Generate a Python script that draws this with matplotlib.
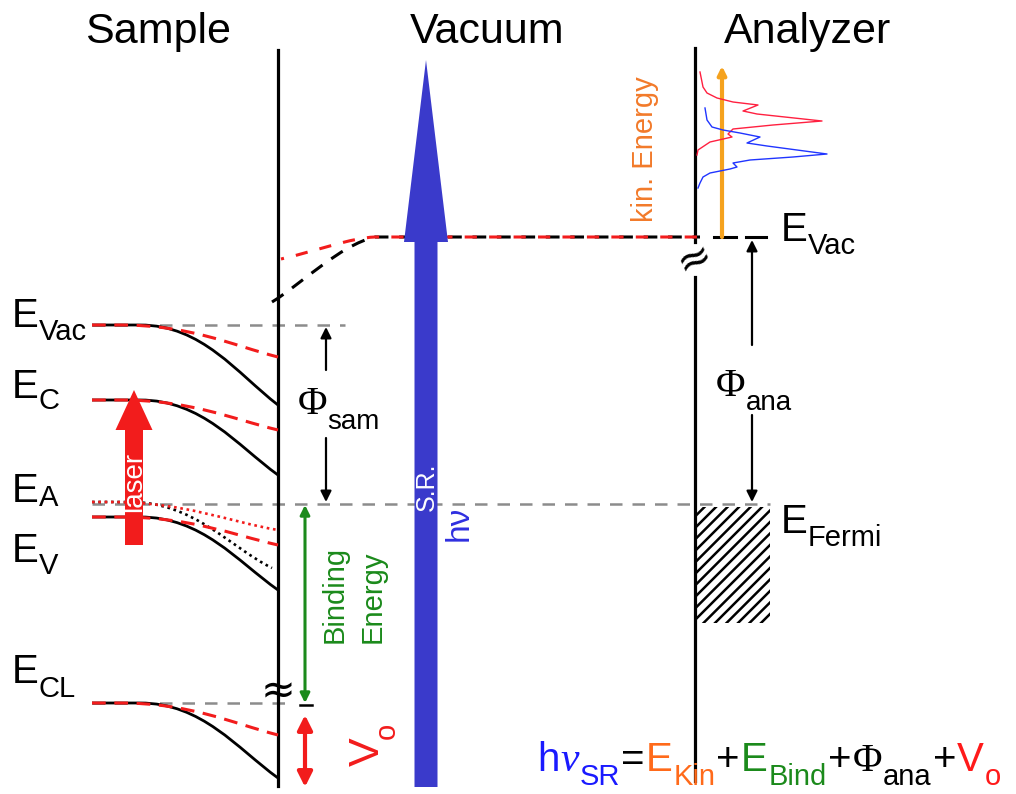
import matplotlib
matplotlib.use('Agg')
import matplotlib.pyplot as plt
import numpy as np
from matplotlib.patches import FancyArrow, Rectangle, PathPatch
from matplotlib.path import Path

plt.rcParams['font.family'] = ['Liberation Sans', 'DejaVu Sans']

# ---------------- data (energy axis in figure pixels, larger = lower energy) -------------
titles = ['Sample', 'Vacuum', 'Analyzer']
title_x = [158, 487, 808]

level_names = ['Vac', 'C', 'A', 'V', 'CL']
level_bulk = [325, 400, 502, 517, 703]      # bulk (flat band) positions
drop_dark = [80, 75, 66, 73, 75]            # band bending in the dark (black)
drop_laser = [32, 30, 28, 28, 32]           # band bending under laser (red)
label_base = [327, 398, 502, 562, 683]
label_sub_base = [340, 409, 506, 574, 697]

vac_level = 237
fermi_level = 504
surface_x = 278
analyzer_x = 695

# photoemission spectra (intensity to the right of analyzer line, vs. kinetic energy)
red_spec_int = [5, 8, 12, 22, 38, 63, 48, 62, 127, 78, 38, 33, 37, 15, 3, 2]
red_spec_e = [72, 87, 93, 98, 102, 105, 111, 114, 121, 125, 129, 134, 137, 142, 150, 155]
blue_spec_int = [10, 12, 17, 28, 45, 65, 52, 72, 132, 98, 55, 38, 42, 35, 15, 8, 5, 3]
blue_spec_e = [108, 120, 127, 130, 133, 137, 143, 146, 154, 157, 160, 163, 167, 169, 173, 177, 183, 188]

RED = '#f21c1c'
GREEN = '#1b8a1b'
BLUE = '#3a3acb'
ORANGE = '#f5a21e'
GRAY = '#8c8c8c'

fig = plt.figure(figsize=(10.16, 7.94), dpi=100)
ax = fig.add_axes([0, 0, 1, 1])
ax.set_xlim(0, 1016)
ax.set_ylim(794, 0)
ax.axis('off')
renderer = fig.canvas.get_renderer()


def sub_label(x, yb, main, sub, ys, size=29, subsize=21, color='black', family=None,
              main_size=None):
    kw = {}
    if family:
        kw['family'] = family
    t = ax.text(x, yb, main, fontsize=main_size or size, color=color, va='baseline',
                ha='left', **kw)
    w = t.get_window_extent(renderer).width
    ax.text(x + w, ys, sub, fontsize=subsize, color=color, va='baseline', ha='left')


def arrow(x0, y0, x1, y1, color='black', lw=2.0, style='-|>', ms=18, z=4):
    ax.annotate('', xy=(x1, y1), xytext=(x0, y0),
                arrowprops=dict(arrowstyle=style, color=color, lw=lw, shrinkA=0, shrinkB=0,
                                mutation_scale=ms), zorder=z)


def band(y0, drop, bend_start, frac, end_x, **kw):
    L = end_x - bend_start
    verts = [(92, y0), (bend_start, y0), (bend_start + 0.45 * L, y0),
             (end_x - 0.3 * L, y0 + frac * drop), (end_x, y0 + drop)]
    codes = [Path.MOVETO, Path.LINETO, Path.CURVE4, Path.CURVE4, Path.CURVE4]
    ax.add_patch(PathPatch(Path(verts, codes), fill=False, capstyle='butt', **kw))


# titles
for t, x in zip(titles, title_x):
    ax.text(x, 43, t, fontsize=31, ha='center', va='baseline')

# vertical lines
ax.plot([surface_x, surface_x], [50, 786], color='black', lw=2.3, zorder=3)
ax.plot([analyzer_x, analyzer_x], [48, 242], color='black', lw=2.3, zorder=3)
ax.plot([analyzer_x, analyzer_x], [277, 781], color='black', lw=2.3, zorder=3)
ax.text(surface_x, 691, '≈', fontsize=30, ha='center', va='center', family='DejaVu Sans',
        zorder=5)
ax.text(analyzer_x, 259, '≈', fontsize=30, ha='center', va='center', rotation=25,
        family='DejaVu Sans', zorder=5)

# gray reference levels
gray_ls = (0, (5, 4))
ax.plot([92, 345], [level_bulk[0], level_bulk[0]], color=GRAY, lw=1.8, ls=gray_ls, zorder=2)
ax.plot([92, 770], [fermi_level, fermi_level], color=GRAY, lw=1.8, ls=gray_ls, zorder=2)
ax.plot([92, 292], [level_bulk[4], level_bulk[4]], color=GRAY, lw=1.8, ls=gray_ls, zorder=2)

# band bending
red_ls = (0, (4.5, 2.8))
for i, name in enumerate(level_names):
    y0 = level_bulk[i]
    if name == 'A':
        band(y0, drop_dark[i], 130, 0.68, 272, edgecolor='black', lw=1.9,
             linestyle=(0, (1, 1.4)), zorder=3)
        band(y0, drop_laser[i], 110, 0.7, surface_x, edgecolor=RED, lw=1.9,
             linestyle=(0, (1, 1.4)), zorder=3)
    else:
        band(y0, drop_dark[i], 140, 0.6, surface_x, edgecolor='black', lw=2.0, zorder=3)
        band(y0, drop_laser[i], 120, 0.62, surface_x, edgecolor=RED, lw=2.2,
             linestyle=red_ls, zorder=3.5)

# left labels
for i, name in enumerate(level_names):
    sub_label(12, label_base[i], 'E', name, label_sub_base[i])

# vacuum level (dark and laser)
pb = Path([(272, 302), (300, 285), (340, 245), (375, vac_level), (700, vac_level)],
          [Path.MOVETO, Path.CURVE4, Path.CURVE4, Path.CURVE4, Path.LINETO])
ax.add_patch(PathPatch(pb, fill=False, edgecolor='black', lw=2.2,
                       linestyle=(0, (4.5, 3.5)), capstyle='butt', zorder=3))
pr = Path([(281, 259), (320, 250), (350, 238), (375, vac_level), (700, vac_level)],
          [Path.MOVETO, Path.CURVE4, Path.CURVE4, Path.CURVE4, Path.LINETO])
ax.add_patch(PathPatch(pr, fill=False, edgecolor=RED, lw=2.2,
                       linestyle=(3, (4.0, 4.0)), capstyle='butt', zorder=3.2))

# Phi_sam
arrow(326, 370, 326, level_bulk[0] + 2, lw=1.6, ms=16)
arrow(326, 438, 326, fermi_level - 2, lw=1.6, ms=16)
sub_label(298, 414, 'Φ', 'sam', 429, subsize=20, family='Liberation Serif', main_size=29)

# Binding energy
arrow(305, 703, 305, fermi_level + 1, color=GREEN, lw=2.2, style='<|-|>', ms=14)
ax.plot([300, 312], [705, 705], color='black', lw=1.8)
ax.text(335, 643, 'Binding', rotation=90, ha='center', va='bottom', fontsize=21, color=GREEN)
ax.text(373, 643, 'Energy', rotation=90, ha='center', va='bottom', fontsize=21, color=GREEN)

# V_o
arrow(305, 715, 305, 787, color=RED, lw=3.0, style='<|-|>', ms=22)
ax.text(368, 752, 'V', rotation=90, fontsize=31, color=RED, ha='center', va='center')
ax.text(387, 731, 'o', rotation=90, fontsize=21, color=RED, ha='center', va='center')

# laser arrow
ax.add_patch(FancyArrow(134, 545, 0, -155, width=18, head_width=37, head_length=40,
                        length_includes_head=True, color=RED, lw=0, zorder=6))
ax.text(134, 482, 'laser', rotation=90, color='white', fontsize=20, ha='center', va='center',
        zorder=7)

# synchrotron radiation arrow
ax.add_patch(FancyArrow(426, 787, 0, -727, width=23, head_width=44, head_length=182,
                        length_includes_head=True, color=BLUE, lw=0, zorder=6))
ax.text(427, 487, 'S.R.', rotation=90, color='white', fontsize=18, ha='center', va='center',
        zorder=7)
ax.text(459, 523, 'hν', rotation=90, color='#2f2fe0', fontsize=24, ha='center', va='center')

# analyzer side
arrow(722, vac_level, 722, 66, color=ORANGE, lw=3.0, ms=12)
ax.plot([714, 736], [vac_level, vac_level], color='black', lw=2.2)
ax.plot([746, 766], [vac_level, vac_level], color='black', lw=2.2)
ax.text(645, 222, 'kin. Energy', rotation=90, ha='center', va='bottom', fontsize=21,
        color='#f27a2a')

ax.plot(analyzer_x + np.array(red_spec_int), red_spec_e, color='#ff2040', lw=1.0, zorder=5)
ax.plot(analyzer_x + np.array(blue_spec_int), blue_spec_e, color='#2035ff', lw=1.0, zorder=5)

arrow(752, 345, 752, vac_level + 3, lw=1.6, ms=16)
arrow(752, 415, 752, fermi_level - 2, lw=1.6, ms=16)
sub_label(716, 396, 'Φ', 'ana', 410, subsize=20, family='Liberation Serif', main_size=29)

sub_label(781, 241, 'E', 'Vac', 254)
sub_label(781, 533, 'E', 'Fermi', 546)

# Fermi sea hatch
rect = Rectangle((697, 507), 73, 116, transform=ax.transData, fill=False, lw=0)
ax.add_patch(rect)
for x0 in np.arange(697 - 120, 775, 11.5):
    ln, = ax.plot([x0, x0 + 130], [623, 493], color='black', lw=1.8, zorder=3)
    ln.set_clip_path(rect)

# equation, laid out run by run
eq_parts = [
    ('h', 0, 29, '#1a1aff', None),
    ('ν', 0, 30, '#1a1aff', 'serif-it'),
    ('SR', 14, 21, '#1a1aff', None),
    ('=', 0, 29, 'black', None),
    ('E', 0, 29, '#ff6a1a', None),
    ('Kin', 14, 21, '#ff6a1a', None),
    ('+', 0, 29, 'black', None),
    ('E', 0, 29, GREEN, None),
    ('Bind', 14, 21, GREEN, None),
    ('+', 0, 29, 'black', None),
    ('Φ', 0, 29, 'black', 'serif'),
    ('ana', 14, 21, 'black', None),
    ('+', 0, 29, 'black', None),
    ('V', 0, 29, '#ff1a1a', None),
    ('o', 14, 21, '#ff1a1a', None),
]
xc = 537
for txt, dy, s, c, fam in eq_parts:
    kw = {}
    if fam == 'serif':
        kw['family'] = 'Liberation Serif'
    elif fam == 'serif-it':
        kw['family'] = 'Liberation Serif'
        kw['style'] = 'italic'
    t = ax.text(xc, 771 + dy, txt, fontsize=s, color=c, va='baseline', ha='left', **kw)
    xc += t.get_window_extent(renderer).width + 1

fig.savefig('out.png', dpi=100, facecolor='white')
